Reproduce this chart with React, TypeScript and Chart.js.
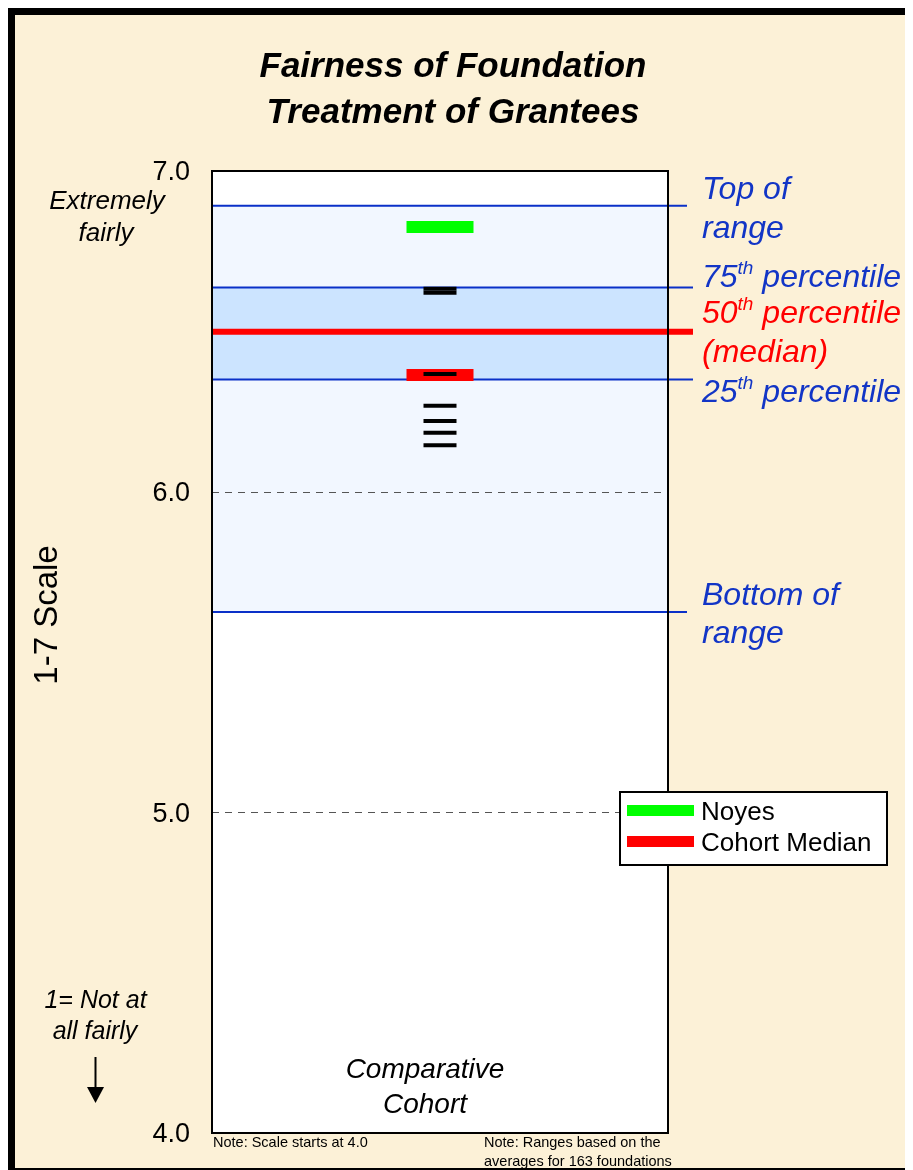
import React, { useEffect, useRef } from "react";
import { Chart, registerables } from "chart.js";

Chart.register(...registerables);

// ---- data ----
const categories = ["Comparative Cohort"];
const noyesValues = [6.825];
const cohortMedianValues = [6.364];
const cohortFoundationValues = [6.633, 6.62, 6.367, 6.268, 6.22, 6.184, 6.145];
const rangeTop = 6.892;
const percentile75 = 6.637;
const percentile50 = 6.499;
const percentile25 = 6.35;
const rangeBottom = 5.625;
const yTickValues = [7, 6, 5, 4];
const yTickLabels = ["7.0", "6.0", "5.0", "4.0"];
const gridValues = [6, 5];

const FONT = "'Liberation Sans', Arial, sans-serif";
const BLUE = "#1235C6";
const LINE_BLUE = "#0A30C8";
const RED = "#FF0000";
const CREAM = "#FCF1D7";

const W = 905;
const H = 1162;

function supText(ctx: CanvasRenderingContext2D, x: number, y: number, a: string, sup: string, b: string, size: number, color: string) {
  ctx.save();
  ctx.fillStyle = color;
  ctx.textAlign = "left";
  ctx.textBaseline = "middle";
  ctx.font = `italic ${size}px ${FONT}`;
  ctx.fillText(a, x, y);
  let cx = x + ctx.measureText(a).width;
  const ss = Math.round(size * 0.6);
  ctx.font = `italic ${ss}px ${FONT}`;
  ctx.fillText(sup, cx, y - size * 0.28);
  cx += ctx.measureText(sup).width;
  ctx.font = `italic ${size}px ${FONT}`;
  ctx.fillText(b, cx, y);
  ctx.restore();
}

const decorPlugin = {
  id: "decor",
  beforeDraw(chart: any) {
    const ctx = chart.ctx as CanvasRenderingContext2D;
    ctx.save();
    ctx.fillStyle = CREAM;
    ctx.fillRect(0, 0, W, H);
    ctx.fillStyle = "#000";
    ctx.fillRect(0, 0, W, 7);
    ctx.fillRect(0, 0, 7, H);
    ctx.fillRect(0, H - 2, W, 2);
    ctx.restore();
  },
  beforeDatasetsDraw(chart: any) {
    const ctx = chart.ctx as CanvasRenderingContext2D;
    const a = chart.chartArea;
    const y = chart.scales.y;
    ctx.save();
    ctx.fillStyle = "#FFFFFF";
    ctx.fillRect(a.left, a.top, a.right - a.left, a.bottom - a.top);
    // full range shading
    const yt = y.getPixelForValue(rangeTop);
    const yb = y.getPixelForValue(rangeBottom);
    ctx.fillStyle = "#F2F7FF";
    ctx.fillRect(a.left, yt, a.right - a.left, yb - yt);
    // interquartile shading
    const y75 = y.getPixelForValue(percentile75);
    const y25 = y.getPixelForValue(percentile25);
    ctx.fillStyle = "#CCE4FF";
    ctx.fillRect(a.left, y75, a.right - a.left, y25 - y75);
    // grid
    ctx.strokeStyle = "#555555";
    ctx.lineWidth = 1;
    ctx.setLineDash([7, 6]);
    for (const g of gridValues) {
      const gy = Math.round(y.getPixelForValue(g)) + 0.5;
      ctx.beginPath();
      ctx.moveTo(a.left, gy);
      ctx.lineTo(a.right, gy);
      ctx.stroke();
    }
    ctx.setLineDash([]);
    // range lines
    ctx.strokeStyle = LINE_BLUE;
    ctx.lineWidth = 2;
    const lines: [number, number][] = [
      [rangeTop, 679],
      [percentile75, 685],
      [percentile25, 685],
      [rangeBottom, 679],
    ];
    for (const [v, endX] of lines) {
      const ly = y.getPixelForValue(v);
      ctx.beginPath();
      ctx.moveTo(a.left, ly);
      ctx.lineTo(endX, ly);
      ctx.stroke();
    }
    // median line
    ctx.strokeStyle = RED;
    ctx.lineWidth = 6;
    const my = y.getPixelForValue(percentile50);
    ctx.beginPath();
    ctx.moveTo(a.left, my);
    ctx.lineTo(685, my);
    ctx.stroke();
    ctx.restore();
  },
  afterDatasetsDraw(chart: any) {
    const ctx = chart.ctx as CanvasRenderingContext2D;
    const a = chart.chartArea;
    const y = chart.scales.y;
    ctx.save();
    // plot border
    ctx.strokeStyle = "#000";
    ctx.lineWidth = 2;
    ctx.strokeRect(a.left, a.top, a.right - a.left, a.bottom - a.top);

    // title
    ctx.fillStyle = "#000";
    ctx.textAlign = "center";
    ctx.textBaseline = "middle";
    ctx.font = `italic bold 35px ${FONT}`;
    ctx.fillText("Fairness of Foundation", 445, 59);
    ctx.fillText("Treatment of Grantees", 445, 105);

    // tick labels
    ctx.font = `27px ${FONT}`;
    ctx.textAlign = "right";
    yTickValues.forEach((v, i) => {
      ctx.fillText(yTickLabels[i], 182, y.getPixelForValue(v) + 2);
    });

    // left annotations
    ctx.textAlign = "center";
    ctx.font = `italic 26px ${FONT}`;
    ctx.fillText("Extremely", 99, 194);
    ctx.fillText("fairly", 98, 226);
    ctx.font = `italic 25px ${FONT}`;
    ctx.fillText("1= Not at", 87.5, 993);
    ctx.fillText("all fairly", 87, 1024);

    // arrow
    ctx.strokeStyle = "#000";
    ctx.lineWidth = 2;
    ctx.beginPath();
    ctx.moveTo(87.5, 1049);
    ctx.lineTo(87.5, 1082);
    ctx.stroke();
    ctx.beginPath();
    ctx.moveTo(79, 1079);
    ctx.lineTo(96, 1079);
    ctx.lineTo(87.5, 1095);
    ctx.closePath();
    ctx.fill();

    // axis title
    ctx.save();
    ctx.translate(40, 607);
    ctx.rotate(-Math.PI / 2);
    ctx.font = `33px ${FONT}`;
    ctx.fillText("1-7 Scale", 0, 0);
    ctx.restore();

    // category label
    ctx.font = `italic 28px ${FONT}`;
    ctx.fillText("Comparative", 417, 1062);
    ctx.fillText(categories[0].split(" ")[1], 417, 1097);

    // notes
    ctx.textAlign = "left";
    ctx.font = `14.5px ${FONT}`;
    ctx.fillText("Note: Scale starts at 4.0", 205, 1135);
    ctx.fillText("Note: Ranges based on the", 476, 1135);
    ctx.fillText("averages for 163 foundations", 476, 1154);

    // right labels
    ctx.fillStyle = BLUE;
    ctx.font = `italic 32px ${FONT}`;
    ctx.fillText("Top of", 694, 182);
    ctx.fillText("range", 694, 221);
    ctx.fillText("Bottom of", 694, 588);
    ctx.fillText("range", 694, 626);
    supText(ctx, 694, 270, "75", "th", " percentile", 32, BLUE);
    supText(ctx, 694, 306, "50", "th", " percentile", 32, RED);
    ctx.fillStyle = RED;
    ctx.font = `italic 32px ${FONT}`;
    ctx.fillText("(median)", 694, 345);
    supText(ctx, 694, 385, "25", "th", " percentile", 32, BLUE);

    // legend
    ctx.fillStyle = "#FFFFFF";
    ctx.fillRect(612, 784, 267, 73);
    ctx.strokeStyle = "#000";
    ctx.lineWidth = 2;
    ctx.strokeRect(612, 784, 267, 73);
    ctx.fillStyle = "#00FF00";
    ctx.fillRect(619, 797, 67, 11);
    ctx.fillStyle = RED;
    ctx.fillRect(619, 828, 67, 11);
    ctx.fillStyle = "#000";
    ctx.font = `26px ${FONT}`;
    ctx.textBaseline = "middle";
    ctx.fillText("Noyes", 693, 805);
    ctx.fillText("Cohort Median", 693, 836);
    ctx.restore();
  },
};

export default function App() {
  const ref = useRef<HTMLCanvasElement | null>(null);
  useEffect(() => {
    if (!ref.current) return;
    const chart = new Chart(ref.current, {
      type: "line",
      data: {
        labels: categories,
        datasets: [
          {
            label: "Cohort foundations",
            data: cohortFoundationValues.map((v) => ({ x: categories[0], y: v })),
            showLine: false,
            pointStyle: "line",
            pointRadius: 16.5,
            pointBorderWidth: 4,
            borderColor: "#000000",
            backgroundColor: "#000000",
            order: 0,
          },
          {
            label: "Noyes",
            data: noyesValues.map((v) => ({ x: categories[0], y: v })),
            showLine: false,
            pointStyle: "line",
            pointRadius: 33.5,
            pointBorderWidth: 12,
            borderColor: "#00FF00",
            backgroundColor: "#00FF00",
            order: 1,
          },
          {
            label: "Cohort Median",
            data: cohortMedianValues.map((v) => ({ x: categories[0], y: v })),
            showLine: false,
            pointStyle: "line",
            pointRadius: 33.5,
            pointBorderWidth: 12,
            borderColor: RED,
            backgroundColor: RED,
            order: 2,
          },
        ],
      },
      options: {
        responsive: false,
        animation: false,
        devicePixelRatio: 1,
        layout: { autoPadding: false, padding: { left: 204, right: 245, top: 163, bottom: 37 } },
        plugins: { legend: { display: false }, tooltip: { enabled: false }, title: { display: false } },
        events: [],
        scales: {
          x: { type: "category", display: false, offset: true },
          y: { type: "linear", display: false, min: 4, max: 7 },
        },
      },
      plugins: [decorPlugin],
    } as any);
    return () => chart.destroy();
  }, []);
  return (
    <div style={{ width: W, height: H }}>
      <canvas ref={ref} width={W} height={H} style={{ display: "block", width: W, height: H }} />
    </div>
  );
}
